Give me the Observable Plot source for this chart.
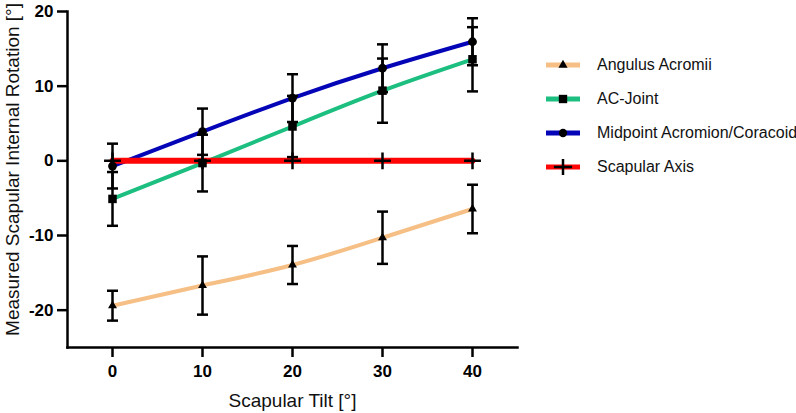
<!DOCTYPE html>
<html>
<head>
<meta charset="utf-8">
<script src="https://cdn.jsdelivr.net/npm/d3@7"></script>
<script src="https://cdn.jsdelivr.net/npm/@observablehq/plot@0.6"></script>
<style>
  body { margin: 0; background: white; }
  #wrap { position: relative; width: 796px; height: 413px; font-family: "Liberation Sans", Arial, sans-serif; }
  #legend { position: absolute; left: 546px; top: 48px; }
  #legend .row { display: flex; align-items: center; height: 34px; }
  #legend span { margin-left: 17px; font-size: 16px; color: #111; white-space: nowrap; }
</style>
</head>
<body>
<div id="wrap">
  <div id="chart"></div>
  <div id="legend"></div>
</div>
<script>
// tilt angles (x) and the four measured series, mean and SD
const tilt = [0, 10, 20, 30, 40];
const yTicks = [-20, -10, 0, 10, 20];

const seriesNames = ["Angulus Acromii", "AC-Joint", "Midpoint Acromion/Coracoid", "Scapular Axis"];
const angulusMean = [-19.4, -16.7, -13.95, -10.3, -6.45];
const angulusSd = [2.0, 3.9, 2.55, 3.5, 3.25];
const acJointMean = [-5.1, -0.3, 4.6, 9.4, 13.6];
const acJointSd = [3.6, 3.8, 4.1, 4.3, 4.3];
const midpointMean = [-0.7, 3.9, 8.4, 12.4, 15.95];
const midpointSd = [3.0, 3.1, 3.2, 3.2, 3.15];
const axisMean = [0, 0, 0, 0, 0];
const axisSd = [0, 0, 0, 0, 0];

const colors = ["#F5BF85", "#1CBF80", "#0505B8", "#FF0505"];
const lineWidths = [4, 4, 4, 6];

const means = [angulusMean, acJointMean, midpointMean, axisMean];
const sds = [angulusSd, acJointSd, midpointSd, axisSd];

const series = seriesNames.map((name, i) => ({
  name,
  color: colors[i],
  width: lineWidths[i],
  rows: tilt.map((x, j) => ({
    x,
    y: means[i][j],
    lo: means[i][j] - sds[i][j],
    hi: means[i][j] + sds[i][j],
  })),
}));

const allRows = series.flatMap((s) => s.rows.filter((d) => d.hi !== d.lo));

// error bar cap: a short horizontal stroke
const cap = {
  draw(ctx) {
    ctx.moveTo(-5.5, 0);
    ctx.lineTo(5.5, 0);
  },
};

const font = "Liberation Sans, Arial, sans-serif";

const chart = Plot.plot({
  width: 796,
  height: 413,
  marginLeft: 67,
  marginRight: 279,
  marginTop: 11,
  marginBottom: 66,
  style: { fontFamily: font, color: "black", background: "white" },
  x: { domain: [-5, 45] },
  y: { domain: [-25, 20] },
  marks: [
    ...series.map((s) =>
      Plot.line(s.rows, { x: "x", y: "y", stroke: s.color, strokeWidth: s.width, curve: "natural" })
    ),
    Plot.ruleX(allRows, { x: "x", y1: "lo", y2: "hi", stroke: "black", strokeWidth: 2.5 }),
    Plot.dot(allRows, { x: "x", y: "hi", symbol: cap, fill: "none", stroke: "black", strokeWidth: 2.5 }),
    Plot.dot(allRows, { x: "x", y: "lo", symbol: cap, fill: "none", stroke: "black", strokeWidth: 2.5 }),
    Plot.dot(series[0].rows, { x: "x", y: "y", symbol: "triangle", r: 3.3, fill: "black" }),
    Plot.dot(series[1].rows, { x: "x", y: "y", symbol: "square", r: 4.8, fill: "black" }),
    Plot.dot(series[2].rows, { x: "x", y: "y", symbol: "circle", r: 4.4, fill: "black" }),
    Plot.dot(series[3].rows, { x: "x", y: "y", symbol: "plus", r: 5.5, fill: "none", stroke: "black", strokeWidth: 2.5 }),
    Plot.frame({ anchor: "left", strokeWidth: 2.5, stroke: "black" }),
    Plot.frame({ anchor: "bottom", strokeWidth: 2.5, stroke: "black" }),
    Plot.axisX({
      ticks: tilt, tickSize: 10, tickPadding: 7, tickFormat: (d) => String(d),
      fontSize: 17, fontWeight: "bold", strokeWidth: 2.5, label: null,
    }),
    Plot.axisY({
      ticks: yTicks, tickSize: 10, tickPadding: 4, tickFormat: (d) => String(d),
      fontSize: 17, fontWeight: "bold", strokeWidth: 2.5, label: null,
    }),
    Plot.text(["Scapular Tilt [°]"], { frameAnchor: "bottom", dy: 59, fontSize: 19, fill: "#111" }),
    Plot.text(["Measured Scapular Internal Rotation [°]"], {
      frameAnchor: "left", textAnchor: "middle", rotate: -90, dx: -55, dy: -10, fontSize: 19, fill: "#111",
    }),
  ],
});

d3.select("#chart").append(() => chart);

// legend on the right
const legendSymbols = [
  { type: d3.symbolTriangle, size: 36, fill: "black", stroke: "none" },
  { type: d3.symbolSquare, size: 70, fill: "black", stroke: "none" },
  { type: d3.symbolCircle, size: 55, fill: "black", stroke: "none" },
  { type: d3.symbolPlus, size: 110, fill: "none", stroke: "black" },
];

const legend = d3.select("#legend");
series.forEach((s, i) => {
  const row = legend.append("div").attr("class", "row");
  const svg = row.append("svg").attr("width", 34).attr("height", 16);
  svg.append("line")
    .attr("x1", 0).attr("x2", 34).attr("y1", 8).attr("y2", 8)
    .attr("stroke", s.color).attr("stroke-width", 5);
  const sym = legendSymbols[i];
  svg.append("path")
    .attr("transform", "translate(17,8)")
    .attr("d", d3.symbol(sym.type, sym.size)())
    .attr("fill", sym.fill)
    .attr("stroke", sym.stroke)
    .attr("stroke-width", 2.5);
  row.append("span").text(s.name);
});
</script>
</body>
</html>
